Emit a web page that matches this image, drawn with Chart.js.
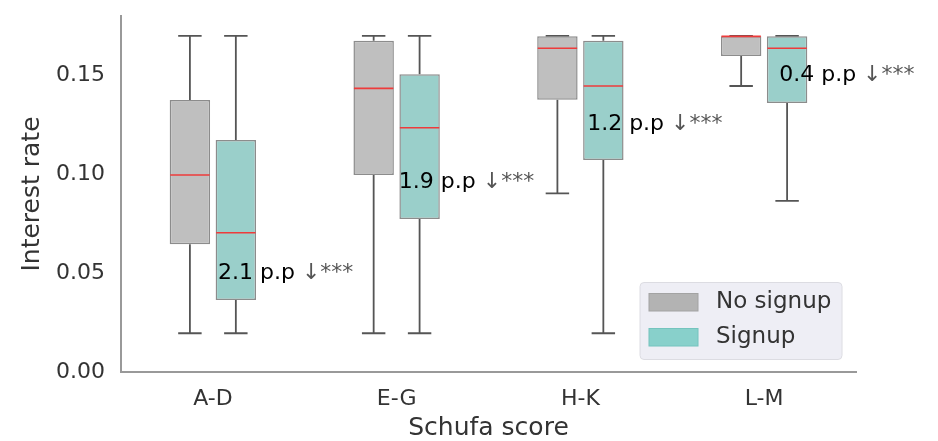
<!DOCTYPE html>
<html>
<head>
<meta charset="utf-8">
<script src="https://cdn.jsdelivr.net/npm/chart.js@4.4.1/dist/chart.umd.min.js"></script>
<style>
    html, body { margin: 0; padding: 0; background: #fff; }
    #wrap { width: 938px; height: 441px; }
</style>
</head>
<body>
<div id="wrap"><canvas id="boxChart"></canvas></div>
<script>
// ====================== DATA ======================

const categories = ["A-D", "E-G", "H-K", "L-M"];
const groups = ["No signup", "Signup"];

// No signup
const noMin = [0.0196, 0.0196, 0.0903, 0.1446];
const noQ1  = [0.0646, 0.0996, 0.1377, 0.1598];
const noMed = [0.0996, 0.1434, 0.1637, 0.1697];
const noQ3  = [0.1375, 0.1675, 0.1697, 0.1697];
const noMax = [0.1700, 0.1700, 0.1700, 0.1700];

// Signup
const suMin = [0.0196, 0.0196, 0.0196, 0.0865];
const suQ1  = [0.0364, 0.0774, 0.1072, 0.1360];
const suMed = [0.0704, 0.1235, 0.1446, 0.1637];
const suQ3  = [0.1173, 0.1505, 0.1675, 0.1697];
const suMax = [0.1700, 0.1700, 0.1700, 0.1700];

const yTicks = [0, 0.05, 0.10, 0.15];
const yTop = 0.18;

// difference annotations
const diffLabels = ["2.1 p.p", "1.9 p.p", "1.2 p.p", "0.4 p.p"];
const diffMark = "↓***";
const diffY = [0.050, 0.096, 0.125, 0.150];
const diffX = [0.028, 0.012, 0.037, 0.082];

// ====================== STYLE ======================

const FONT = "'DejaVu Sans', 'Liberation Sans', sans-serif";
const TEXT = "#333333";
const boxFill = ["#bfbfbf", "#9acfca"];
const legendFill = ["#b3b3b3", "#88d0cb"];
const legendEdge = ["#a3a3a3", "#74c4be"];

const stats = [
    { min: noMin, q1: noQ1, med: noMed, q3: noQ3, max: noMax },
    { min: suMin, q1: suQ1, med: suMed, q3: suQ3, max: suMax }
];

// ====================== PLUGIN ======================

const boxParts = {
    id: "boxParts",
    beforeDatasetsDraw(chart) {
        const ctx = chart.ctx;
        const y = chart.scales.y;
        ctx.save();
        ctx.strokeStyle = "#555555";
        ctx.lineWidth = 1.8;
        stats.forEach((s, d) => {
            chart.getDatasetMeta(d).data.forEach((bar, i) => {
                const half = bar.width * 0.29;
                const pMax = y.getPixelForValue(s.max[i]);
                const pMin = y.getPixelForValue(s.min[i]);
                ctx.beginPath();
                ctx.moveTo(bar.x, y.getPixelForValue(s.q3[i]));
                ctx.lineTo(bar.x, pMax);
                ctx.moveTo(bar.x - half, pMax);
                ctx.lineTo(bar.x + half, pMax);
                ctx.moveTo(bar.x, y.getPixelForValue(s.q1[i]));
                ctx.lineTo(bar.x, pMin);
                ctx.moveTo(bar.x - half, pMin);
                ctx.lineTo(bar.x + half, pMin);
                ctx.stroke();
            });
        });
        ctx.restore();
    },
    afterDatasetsDraw(chart) {
        const ctx = chart.ctx;
        const y = chart.scales.y;
        ctx.save();
        ctx.strokeStyle = "#ee3b3b";
        ctx.lineWidth = 1.6;
        stats.forEach((s, d) => {
            chart.getDatasetMeta(d).data.forEach((bar, i) => {
                const py = y.getPixelForValue(s.med[i]);
                ctx.beginPath();
                ctx.moveTo(bar.x - bar.width / 2 + 0.5, py);
                ctx.lineTo(bar.x + bar.width / 2 - 0.5, py);
                ctx.stroke();
            });
        });
        ctx.restore();
    },
    afterDraw(chart) {
        const ctx = chart.ctx;
        const x = chart.scales.x;
        const y = chart.scales.y;
        const area = chart.chartArea;
        const step = x.getPixelForValue(1) - x.getPixelForValue(0);

        ctx.save();
        ctx.font = "22px " + FONT;
        ctx.textBaseline = "middle";
        ctx.textAlign = "left";
        diffLabels.forEach((label, i) => {
            const px = x.getPixelForValue(i) + diffX[i] * step;
            const py = y.getPixelForValue(diffY[i]);
            ctx.fillStyle = "#000";
            ctx.fillText(label, px, py);
            const w = ctx.measureText(label + " ").width;
            ctx.fillStyle = "#555";
            ctx.fillText(diffMark, px + w, py);
        });

        // legend
        const lw = 202, lh = 77;
        const lx = area.right - 14 - lw;
        const ly = area.bottom - 12.5 - lh;
        ctx.beginPath();
        ctx.roundRect(lx, ly, lw, lh, 4);
        ctx.fillStyle = "rgba(234,234,242,0.8)";
        ctx.fill();
        ctx.strokeStyle = "#dcdce2";
        ctx.lineWidth = 1;
        ctx.stroke();

        ctx.font = "23px " + FONT;
        groups.forEach((g, k) => {
            const py = ly + 11 + k * 35;
            ctx.fillStyle = legendFill[k];
            ctx.fillRect(lx + 9, py, 49, 17.5);
            ctx.strokeStyle = legendEdge[k];
            ctx.strokeRect(lx + 9, py, 49, 17.5);
            ctx.fillStyle = TEXT;
            ctx.fillText(g, lx + 76, py + 9);
        });
        ctx.restore();
    }
};

// ====================== CHART ======================

const ctx = document.getElementById("boxChart");

new Chart(ctx, {
    type: "bar",
    data: {
        labels: categories,
        datasets: groups.map((g, d) => ({
            label: g,
            data: stats[d].q1.map((v, i) => [v, stats[d].q3[i]]),
            backgroundColor: boxFill[d],
            borderColor: "#8c8c8c",
            borderWidth: 1.5,
            borderSkipped: false,
            categoryPercentage: 0.5,
            barPercentage: 0.88
        }))
    },
    options: {
        responsive: true,
        maintainAspectRatio: false,
        animation: false,
        events: [],
        layout: { padding: { top: 16, right: 82, left: 0, bottom: 0 } },
        plugins: {
            legend: { display: false },
            tooltip: { enabled: false }
        },
        scales: {
            x: {
                grid: { display: false, drawTicks: false },
                border: { display: true, color: "#999999", width: 2 },
                ticks: { color: TEXT, padding: 14, font: { family: FONT, size: 22 } },
                title: {
                    display: true,
                    text: "Schufa score",
                    color: TEXT,
                    padding: { top: 0, bottom: 0 },
                    font: { family: FONT, size: 25, lineHeight: 1 }
                },
                afterFit: scale => { scale.height = 69; }
            },
            y: {
                min: 0,
                max: yTop,
                grid: { display: false, drawTicks: false },
                border: { display: true, color: "#999999", width: 2 },
                ticks: {
                    color: TEXT,
                    padding: 16,
                    font: { family: FONT, size: 22 },
                    callback: v => v.toFixed(2)
                },
                afterBuildTicks: scale => {
                    scale.ticks = yTicks.map(v => ({ value: v }));
                },
                title: {
                    display: true,
                    text: "Interest rate",
                    color: TEXT,
                    padding: { top: 19.5, bottom: 0 },
                    font: { family: FONT, size: 25, lineHeight: 1 }
                },
                afterFit: scale => {
                    scale.width = 121;
                    scale.paddingTop = 0;
                    scale.paddingBottom = 0;
                }
            }
        }
    },
    plugins: [boxParts]
});
</script>
</body>
</html>
